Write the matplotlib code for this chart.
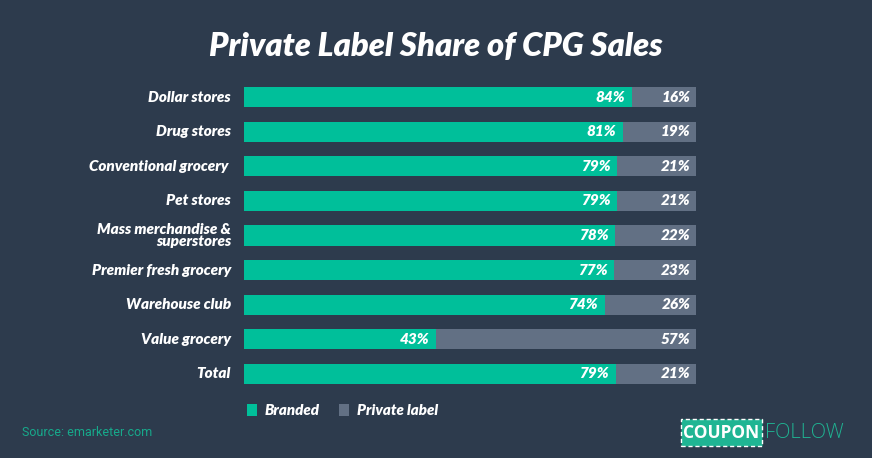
import matplotlib
matplotlib.use("Agg")
import matplotlib.pyplot as plt
from matplotlib.patches import Rectangle

categories = ["Dollar stores", "Drug stores", "Conventional grocery ", "Pet stores",
              "Mass merchandise &\nsuperstores", "Premier fresh grocery",
              "Warehouse club", "Value grocery", "Total"]
branded = [84, 81, 79, 79, 78, 77, 74, 43, 79]
private = [16, 19, 21, 21, 22, 23, 26, 57, 21]
# split point of each bar as it is drawn in the graphic (share of bar width)
branded_drawn = [85.8, 83.8, 82.6, 82.6, 82.1, 81.9, 79.8, 42.5, 82.2]

BG = "#2d3b4d"
GREEN = "#00bf9a"
GREY = "#627084"
W, H = 872, 458

plt.rcParams['font.family'] = ['Lato', 'DejaVu Sans']

fig = plt.figure(figsize=(W / 100, H / 100), dpi=100, facecolor=BG)

# axes placed in pixel terms: bars 244..696, rows centred 97..374
left, right = 244, 696
top, bottom = 79.7, 391.3
ax = fig.add_axes([left / W, 1 - bottom / H, (right - left) / W, (bottom - top) / H])
ax.set_facecolor(BG)
ypos = list(range(len(categories)))
rest = [100 - b for b in branded_drawn]
ax.barh(ypos, branded_drawn, height=0.58, color=GREEN, linewidth=0)
ax.barh(ypos, rest, left=branded_drawn, height=0.58, color=GREY, linewidth=0)
ax.set_xlim(0, 100)
ax.set_ylim(len(categories) - 0.5, -0.5)
ax.axis('off')

lab_x = -(left - 231) / (right - left) * 100
for i, (b, p) in enumerate(zip(branded, private)):
    ax.text(branded_drawn[i] - 1.5, i, f"{b}%", ha='right', va='center', color='white',
            fontsize=11, fontweight='heavy', style='italic')
    ax.text(98.8, i, f"{p}%", ha='right', va='center', color='white',
            fontsize=11, fontweight='heavy', style='italic')
    ax.text(lab_x, i, categories[i], ha='right', va='center', color='white',
            fontsize=11, fontweight='heavy', style='italic', linespacing=0.9)

fig.text(436 / W, 1 - 47 / H, "Private Label Share of CPG Sales", ha='center', va='center',
         color='white', fontsize=23.5, fontweight='heavy', style='italic')

# legend
for x0, col, lab in [(247, GREEN, "Branded"), (339, GREY, "Private label")]:
    fig.patches.append(Rectangle((x0 / W, 1 - 416 / H), 10 / W, 12 / H,
                                 transform=fig.transFigure, color=col, linewidth=0))
    fig.text((x0 + 18) / W, 1 - 410.5 / H, lab, ha='left', va='center', color='white',
             fontsize=10.8, fontweight='heavy', style='italic')

fig.text(22 / W, 1 - 433 / H, "Source: emarketer.com", ha='left', va='center',
         color="#17a98b", fontsize=9, family=['Roboto', 'DejaVu Sans'])

# logo
box = Rectangle((681 / W, 1 - 446 / H), 81 / W, 27 / H, transform=fig.transFigure,
                facecolor="#1fb593", edgecolor='white', linestyle=(0, (3, 2)), linewidth=1)
fig.patches.append(box)
fig.text(721.5 / W, 1 - 432.5 / H, "COUPON", ha='center', va='center', color='white',
         fontsize=12.5, fontweight='bold', family=['Open Sans', 'DejaVu Sans'])
fig.text(765 / W, 1 - 432.5 / H, "FOLLOW", ha='left', va='center', color="#1fb593",
         fontsize=14.5, fontweight='light', family=['Open Sans', 'DejaVu Sans'])

fig.savefig("out.png", dpi=100, facecolor=BG)
